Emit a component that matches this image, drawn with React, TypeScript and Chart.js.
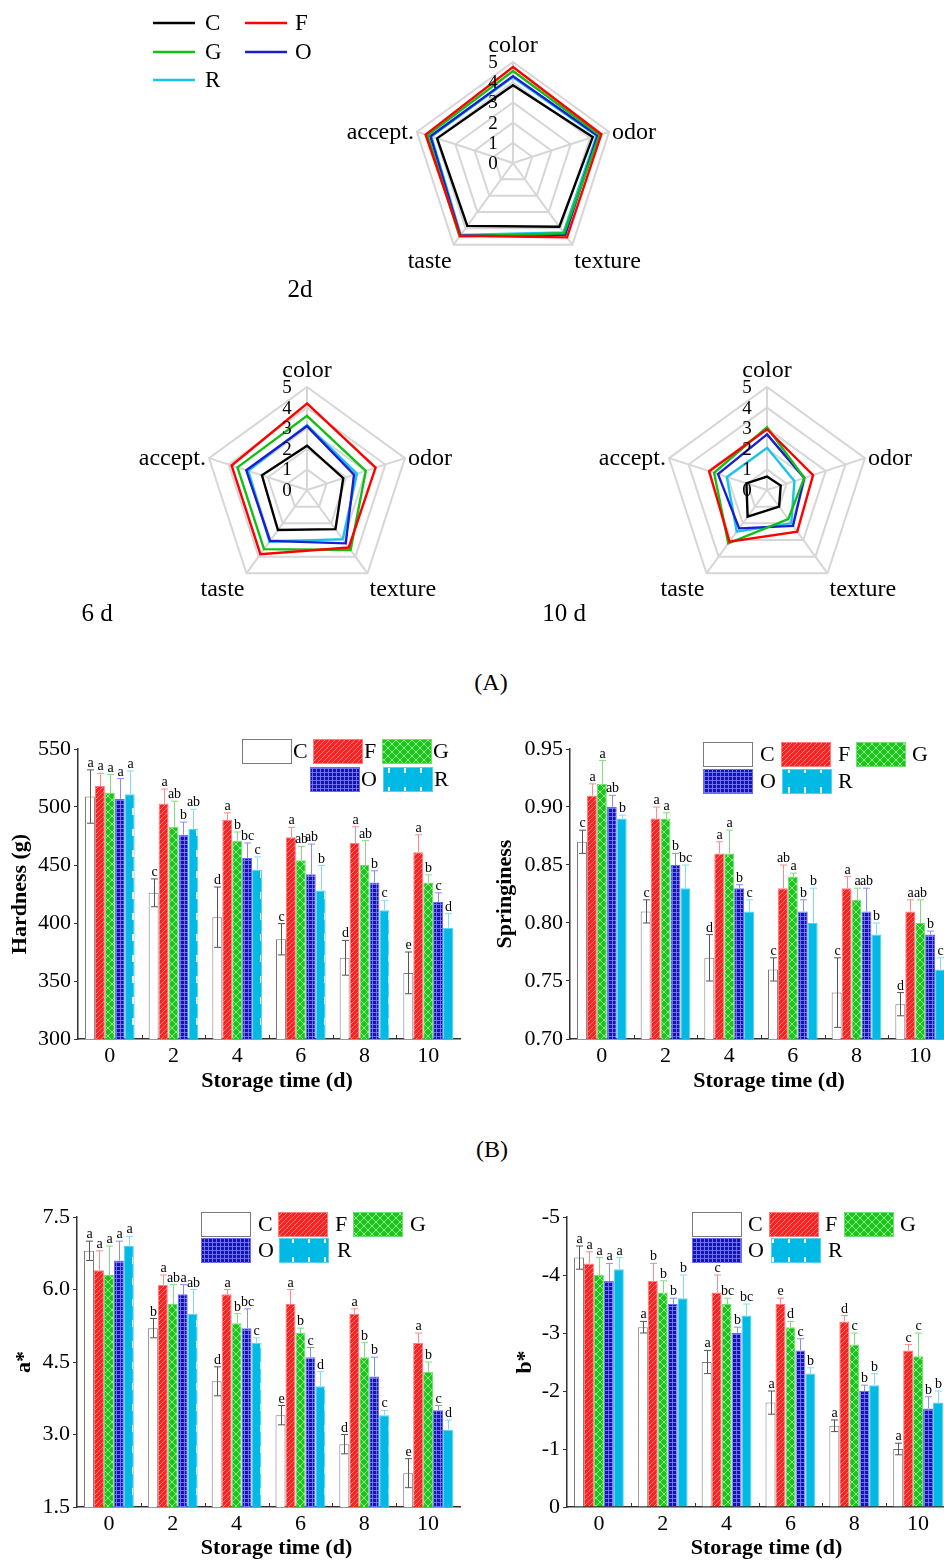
import React, { useEffect, useRef } from 'react';
import { Chart, registerables } from 'chart.js';

Chart.register(...registerables);

const SERIF = "'Times New Roman', 'Liberation Serif', 'DejaVu Serif', serif";

// ---------- data ----------
const seriesNames = ['C', 'F', 'G', 'O', 'R'];
const lineColors = ['#000000', '#ff0000', '#12c012', '#1c1cd0', '#16c4ec'];

const radarAxes = ['color', 'odor', 'texture', 'taste', 'accept.'];
const radarTickLabels = ['0', '1', '2', '3', '4', '5'];

const radar2d = [
  [3.85, 4.15, 3.9, 3.85, 3.95],
  [4.75, 4.6, 4.55, 4.45, 4.55],
  [4.55, 4.5, 4.3, 4.5, 4.45],
  [4.3, 4.4, 4.4, 4.45, 4.3],
  [4.25, 4.35, 4.25, 4.4, 4.25],
];
const radar6d = [
  [2.15, 1.85, 2.35, 2.4, 2.3],
  [4.2, 3.5, 3.45, 3.85, 3.85],
  [3.6, 3.0, 3.6, 3.55, 3.55],
  [3.1, 2.4, 3.2, 3.05, 3.1],
  [3.15, 2.55, 2.95, 3.1, 3.0],
];
const radar10d = [
  [0.65, 0.7, 1.0, 1.6, 1.05],
  [2.95, 2.35, 2.5, 3.1, 2.95],
  [3.05, 1.9, 1.75, 3.2, 2.7],
  [2.7, 1.9, 2.15, 2.3, 2.5],
  [2.05, 1.4, 2.0, 2.5, 2.05],
];

const days = ['0', '2', '4', '6', '8', '10'];

const hardnessTicks = [300, 350, 400, 450, 500, 550];
const hardnessMeans = [
  [509, 426, 405, 386, 370, 357],
  [518, 503, 489, 474, 469, 461],
  [512, 483, 471, 454, 450, 435],
  [507, 476, 456, 442, 435, 418],
  [511, 481, 446, 428, 411, 396],
];
const hardnessErrors = [
  [23, 12, 26, 13.5, 15, 18],
  [11, 12.5, 6, 8.5, 14, 15],
  [16, 22, 7.5, 12, 21, 6.5],
  [17.5, 11, 13, 26, 10, 8],
  [20, 17, 11, 21.5, 8.5, 12],
];
const hardnessLetters = [
  ['a', 'c', 'd', 'c', 'd', 'e'],
  ['a', 'a', 'a', 'a', 'a', 'a'],
  ['a', 'ab', 'b', 'ab', 'ab', 'b'],
  ['a', 'b', 'bc', 'ab', 'b', 'c'],
  ['a', 'ab', 'c', 'b', 'c', 'd'],
];

const springTicks = [0.7, 0.75, 0.8, 0.85, 0.9, 0.95];
const springMeans = [
  [0.87, 0.81, 0.77, 0.76, 0.74, 0.73],
  [0.91, 0.89, 0.86, 0.83, 0.83, 0.81],
  [0.92, 0.89, 0.86, 0.84, 0.82, 0.8],
  [0.9, 0.85, 0.83, 0.81, 0.81, 0.79],
  [0.89, 0.83, 0.81, 0.8, 0.79, 0.76],
];
const springErrors = [
  [0.01, 0.01, 0.02, 0.01, 0.03, 0.01],
  [0.01, 0.01, 0.01, 0.02, 0.01, 0.01],
  [0.02, 0.005, 0.02, 0.003, 0.01, 0.02],
  [0.01, 0.01, 0.003, 0.01, 0.02, 0.003],
  [0.003, 0.02, 0.01, 0.03, 0.01, 0.01],
];
const springLetters = [
  ['c', 'c', 'd', 'c', 'c', 'd'],
  ['a', 'a', 'a', 'ab', 'a', 'a'],
  ['a', 'a', 'a', 'a', 'a', 'ab'],
  ['ab', 'b', 'b', 'b', 'ab', 'b'],
  ['b', 'bc', 'c', 'b', 'b', 'c'],
];

const aTicks = [1.5, 3.0, 4.5, 6.0, 7.5];
const aMeans = [
  [6.8, 5.2, 4.1, 3.4, 2.8, 2.2],
  [6.4, 6.1, 5.9, 5.7, 5.5, 4.9],
  [6.3, 5.7, 5.3, 5.1, 4.6, 4.3],
  [6.6, 5.9, 5.2, 4.6, 4.2, 3.5],
  [6.9, 5.5, 4.9, 4.0, 3.4, 3.1],
];
const aErrors = [
  [0.2, 0.2, 0.3, 0.2, 0.2, 0.3],
  [0.4, 0.2, 0.1, 0.3, 0.1, 0.2],
  [0.6, 0.4, 0.2, 0.1, 0.3, 0.2],
  [0.4, 0.2, 0.4, 0.2, 0.4, 0.1],
  [0.2, 0.5, 0.1, 0.3, 0.1, 0.2],
];
const aLetters = [
  ['a', 'b', 'd', 'e', 'd', 'e'],
  ['a', 'a', 'a', 'a', 'a', 'a'],
  ['a', 'ab', 'b', 'b', 'b', 'b'],
  ['a', 'a', 'bc', 'c', 'b', 'c'],
  ['a', 'ab', 'c', 'd', 'c', 'd'],
];

const bTicks = [-5, -4, -3, -2, -1, 0];
const bMeans = [
  [-4.3, -3.1, -2.5, -1.8, -1.4, -1.0],
  [-4.2, -3.9, -3.7, -3.5, -3.2, -2.7],
  [-4.0, -3.7, -3.5, -3.1, -2.8, -2.6],
  [-3.9, -3.5, -3.0, -2.7, -2.0, -1.7],
  [-4.1, -3.6, -3.3, -2.3, -2.1, -1.8],
];
const bErrors = [
  [0.2, 0.1, 0.2, 0.2, 0.1, 0.1],
  [0.2, 0.3, 0.3, 0.1, 0.1, 0.1],
  [0.3, 0.2, 0.1, 0.1, 0.2, 0.4],
  [0.3, 0.1, 0.1, 0.2, 0.1, 0.2],
  [0.2, 0.4, 0.2, 0.1, 0.2, 0.2],
];
const bLetters = [
  ['a', 'a', 'a', 'a', 'a', 'a'],
  ['a', 'b', 'c', 'e', 'd', 'c'],
  ['a', 'b', 'bc', 'd', 'c', 'c'],
  ['a', 'b', 'b', 'c', 'b', 'b'],
  ['a', 'b', 'bc', 'b', 'b', 'b'],
];

// ---------- styling helpers ----------
type Rect = { x: number; y: number; w: number; h: number };

const barBorders = ['#7a7a7a', '#ff7a7a', '#6ee06e', '#6a6af0', '#55d2f2'];
const errColors = ['#555555', '#ff8a8a', '#7ede7e', '#8a8aff', '#7fdcff'];

function tile(w: number, h: number, draw: (c: CanvasRenderingContext2D) => void) {
  const cv = document.createElement('canvas');
  cv.width = w;
  cv.height = h;
  const c = cv.getContext('2d')!;
  draw(c);
  return cv;
}

function makeFills(ctx: CanvasRenderingContext2D): (string | CanvasPattern)[] {
  const red = tile(5, 5, (c) => {
    c.fillStyle = '#ff2020';
    c.fillRect(0, 0, 5, 5);
    c.strokeStyle = 'rgba(255,180,180,0.9)';
    c.lineWidth = 0.8;
    c.beginPath();
    c.moveTo(0, 5); c.lineTo(5, 0);
    c.moveTo(-1, 1); c.lineTo(1, -1);
    c.moveTo(4, 6); c.lineTo(6, 4);
    c.stroke();
  });
  const green = tile(8, 8, (c) => {
    c.fillStyle = '#1ec31e';
    c.fillRect(0, 0, 8, 8);
    c.strokeStyle = 'rgba(190,255,190,0.85)';
    c.lineWidth = 0.8;
    c.beginPath();
    c.moveTo(0, 8); c.lineTo(8, 0);
    c.moveTo(0, 0); c.lineTo(8, 8);
    c.stroke();
  });
  const blue = tile(4, 4, (c) => {
    c.fillStyle = '#1414b0';
    c.fillRect(0, 0, 4, 4);
    c.fillStyle = 'rgba(130,130,255,0.8)';
    c.fillRect(0, 0, 4, 1);
    c.fillRect(0, 0, 1, 4);
  });
  const cyan = tile(16, 21, (c) => {
    c.fillStyle = '#00b9e4';
    c.fillRect(0, 0, 16, 21);
    c.fillStyle = '#ffffff';
    c.fillRect(4, 4, 2, 7);
  });
  return [
    '#ffffff',
    ctx.createPattern(red, 'repeat')!,
    ctx.createPattern(green, 'repeat')!,
    ctx.createPattern(blue, 'repeat')!,
    ctx.createPattern(cyan, 'repeat')!,
  ];
}

function ChartCanvas({ rect, build }: { rect: Rect; build: (cv: HTMLCanvasElement) => any }) {
  const ref = useRef<HTMLCanvasElement | null>(null);
  useEffect(() => {
    if (!ref.current) return;
    const chart = new Chart(ref.current, build(ref.current));
    return () => chart.destroy();
  }, []);
  return (
    <canvas
      ref={ref}
      width={rect.w}
      height={rect.h}
      style={{ position: 'absolute', left: rect.x, top: rect.y, width: rect.w, height: rect.h, display: 'block' }}
    />
  );
}

// ---------- radar ----------
type RadarSpec = {
  rect: Rect;
  cx: number;
  cy: number;
  r: number;
  values: number[][];
  extra?: (ctx: CanvasRenderingContext2D, rect: Rect) => void;
};

function radarConfig(spec: RadarSpec) {
  const { rect, cx, cy, r, values } = spec;
  return {
    type: 'radar',
    data: {
      labels: radarAxes,
      datasets: seriesNames.map((n, i) => ({
        label: n,
        data: values[i],
        borderColor: lineColors[i],
        backgroundColor: 'rgba(0,0,0,0)',
        borderWidth: 2.4,
        pointRadius: 0,
        fill: false,
        tension: 0,
      })),
    },
    options: {
      responsive: false,
      animation: false,
      devicePixelRatio: 1,
      events: [],
      layout: {
        padding: {
          left: cx - r - rect.x,
          top: cy - r - rect.y,
          right: rect.x + rect.w - (cx + r),
          bottom: rect.y + rect.h - (cy + r),
        },
      },
      plugins: { legend: { display: false }, tooltip: { enabled: false } },
      scales: {
        r: {
          min: 0,
          max: 5,
          ticks: { display: false, stepSize: 1 },
          pointLabels: { display: false },
          grid: { color: '#d6d6d6', lineWidth: 2 },
          angleLines: { color: '#d6d6d6', lineWidth: 2 },
        },
      },
    },
    plugins: [
      {
        id: 'radarText',
        afterDraw(chart: any) {
          const s = chart.scales.r;
          const ctx: CanvasRenderingContext2D = chart.ctx;
          ctx.save();
          ctx.fillStyle = '#000';
          ctx.font = `24px ${SERIF}`;
          ctx.textBaseline = 'alphabetic';
          radarAxes.forEach((lab, i) => {
            const p = s.getPointPosition(i, s.drawingArea);
            let x = p.x;
            let y = p.y;
            if (i === 0) { ctx.textAlign = 'center'; y -= 10; }
            else if (i === 1) { ctx.textAlign = 'left'; x += 3; y += 7; }
            else if (i === 2) { ctx.textAlign = 'left'; x += 2; y += 23; }
            else if (i === 3) { ctx.textAlign = 'right'; x -= 2; y += 23; }
            else { ctx.textAlign = 'right'; x -= 3; y += 7; }
            ctx.fillText(lab, x, y);
          });
          ctx.font = `19px ${SERIF}`;
          ctx.textAlign = 'center';
          ctx.textBaseline = 'middle';
          radarTickLabels.forEach((t) => {
            const d = s.getDistanceFromCenterForValue(Number(t));
            ctx.fillText(t, s.xCenter - 20, s.yCenter - d + 1);
          });
          if (spec.extra) spec.extra(ctx, rect);
          ctx.restore();
        },
      },
    ],
  };
}

function drawRadarLegend(ctx: CanvasRenderingContext2D, rect: Rect) {
  const items = [
    { x: 153, y: 23, tx: 205 },
    { x: 245, y: 23, tx: 295 },
    { x: 153, y: 52, tx: 205 },
    { x: 245, y: 52, tx: 295 },
    { x: 153, y: 80, tx: 205 },
  ];
  ctx.font = `23px ${SERIF}`;
  ctx.textAlign = 'left';
  ctx.textBaseline = 'middle';
  items.forEach((it, i) => {
    ctx.strokeStyle = lineColors[i];
    ctx.lineWidth = 2.6;
    ctx.beginPath();
    ctx.moveTo(it.x - rect.x, it.y - rect.y);
    ctx.lineTo(it.x + 42 - rect.x, it.y - rect.y);
    ctx.stroke();
    ctx.fillStyle = '#000';
    ctx.fillText(seriesNames[i], it.tx - rect.x, it.y + 1 - rect.y);
  });
}

function drawLabel(text: string, x: number, y: number) {
  return (ctx: CanvasRenderingContext2D, rect: Rect) => {
    ctx.font = `25px ${SERIF}`;
    ctx.fillStyle = '#000';
    ctx.textAlign = 'center';
    ctx.textBaseline = 'middle';
    ctx.fillText(text, x - rect.x, y - rect.y);
  };
}

// ---------- bars ----------
type BarSpec = {
  rect: Rect;
  plot: { l: number; r: number; t: number; b: number };
  min: number;
  max: number;
  ticks: number[];
  fmt: (v: number) => string;
  reverse?: boolean;
  means: number[][];
  errs: number[][];
  letters: string[][];
  yTitle: string;
  yTitleX: number;
  xTitleY: number;
  legend: { bx: number; by: number; tx: number }[];
};

function barConfig(spec: BarSpec, cv: HTMLCanvasElement) {
  const { rect, plot } = spec;
  const fills = makeFills(cv.getContext('2d')!);
  const up = spec.reverse ? -1 : 1;
  return {
    type: 'bar',
    data: {
      labels: days,
      datasets: seriesNames.map((n, i) => ({
        label: n,
        data: spec.means[i],
        backgroundColor: fills[i],
        borderColor: barBorders[i],
        borderWidth: 1,
        categoryPercentage: 0.78,
        barPercentage: 1.0,
      })),
    },
    options: {
      responsive: false,
      animation: false,
      devicePixelRatio: 1,
      events: [],
      layout: {
        padding: { left: 0, top: plot.t - rect.y, right: rect.x + rect.w - plot.r, bottom: 0 },
      },
      plugins: { legend: { display: false }, tooltip: { enabled: false } },
      scales: {
        x: {
          type: 'category',
          offset: true,
          grid: { display: false, drawTicks: false, tickLength: 0 },
          border: { display: true, color: '#333', width: 1.5 },
          ticks: { font: { family: SERIF, size: 22 }, color: '#000', padding: 4, maxRotation: 0, autoSkip: false },
          afterFit: (s: any) => { s.height = rect.y + rect.h - plot.b; },
        },
        y: {
          min: spec.min,
          max: spec.max,
          reverse: !!spec.reverse,
          afterBuildTicks: (s: any) => { s.ticks = spec.ticks.map((v) => ({ value: v })); },
          grid: { drawOnChartArea: false, tickLength: 4, color: '#333', lineWidth: 1 },
          border: { display: true, color: '#333', width: 1.5 },
          ticks: { font: { family: SERIF, size: 22 }, color: '#000', padding: 3, callback: (v: any) => spec.fmt(Number(v)) },
          title: {
            display: true,
            text: spec.yTitle,
            color: '#000',
            font: { family: SERIF, size: 22, weight: 'bold' },
            padding: { top: spec.yTitleX - rect.x - 13.2, bottom: 0 },
          },
          afterFit: (s: any) => { s.width = plot.l - rect.x; },
        },
      },
    },
    plugins: [
      {
        id: 'errLetters',
        afterDatasetsDraw(chart: any) {
          const ctx: CanvasRenderingContext2D = chart.ctx;
          const ys = chart.scales.y;
          const xs = chart.scales.x;
          const area = chart.chartArea;
          ctx.save();
          ctx.strokeStyle = '#333';
          ctx.lineWidth = 1;
          ctx.beginPath();
          for (let i = 0; i < days.length - 1; i++) {
            const bx = Math.round((xs.getPixelForTick(i) + xs.getPixelForTick(i + 1)) / 2) + 0.5;
            ctx.moveTo(bx, area.bottom);
            ctx.lineTo(bx, area.bottom - 4);
          }
          ctx.stroke();
          spec.means.forEach((arr, si) => {
            const meta = chart.getDatasetMeta(si);
            arr.forEach((v, i) => {
              const el = meta.data[i];
              if (!el) return;
              const x = Math.round(el.x) + 0.5;
              const e = spec.errs[si][i];
              const pv = ys.getPixelForValue(v);
              const pt = ys.getPixelForValue(v + up * e);
              const pb = ys.getPixelForValue(v - up * e);
              ctx.strokeStyle = errColors[si];
              ctx.lineWidth = 1;
              ctx.beginPath();
              ctx.moveTo(x, si === 0 ? pb : pv);
              ctx.lineTo(x, pt);
              ctx.moveTo(x - 3.5, pt);
              ctx.lineTo(x + 3.5, pt);
              if (si === 0) {
                ctx.moveTo(x - 3.5, pb);
                ctx.lineTo(x + 3.5, pb);
              }
              ctx.stroke();
              ctx.fillStyle = '#000';
              ctx.font = `14px ${SERIF}`;
              ctx.textAlign = 'center';
              ctx.textBaseline = 'alphabetic';
              ctx.fillText(spec.letters[si][i], x, pt - 3);
            });
          });
          ctx.restore();
        },
        afterDraw(chart: any) {
          const ctx: CanvasRenderingContext2D = chart.ctx;
          const area = chart.chartArea;
          ctx.save();
          spec.legend.forEach((it, i) => {
            const bx = it.bx - rect.x;
            const by = it.by - rect.y;
            ctx.fillStyle = fills[i] as any;
            ctx.fillRect(bx, by, 50, 25);
            ctx.strokeStyle = barBorders[i];
            ctx.lineWidth = 1;
            ctx.strokeRect(bx + 0.5, by + 0.5, 49, 24);
            ctx.fillStyle = '#000';
            ctx.font = `22px ${SERIF}`;
            ctx.textAlign = 'left';
            ctx.textBaseline = 'middle';
            ctx.fillText(seriesNames[i], it.tx - rect.x, by + 13.5);
          });
          ctx.fillStyle = '#000';
          ctx.font = `bold 22px ${SERIF}`;
          ctx.textAlign = 'center';
          ctx.textBaseline = 'middle';
          ctx.fillText('Storage time (d)', (area.left + area.right) / 2 + 8, spec.xTitleY - rect.y);
          ctx.restore();
        },
      },
    ],
  };
}

const hardnessSpec: BarSpec = {
  rect: { x: 0, y: 720, w: 470, h: 380 },
  plot: { l: 78, r: 460, t: 749, b: 1039 },
  min: 300, max: 550, ticks: hardnessTicks, fmt: (v) => String(v),
  means: hardnessMeans, errs: hardnessErrors, letters: hardnessLetters,
  yTitle: 'Hardness (g)', yTitleX: 20, xTitleY: 1081,
  legend: [
    { bx: 242, by: 739, tx: 293 },
    { bx: 313, by: 739, tx: 364 },
    { bx: 382, by: 739, tx: 433 },
    { bx: 310, by: 767, tx: 361 },
    { bx: 383, by: 767, tx: 434 },
  ],
};

const springSpec: BarSpec = {
  rect: { x: 480, y: 720, w: 480, h: 380 },
  plot: { l: 570, r: 952, t: 749, b: 1039 },
  min: 0.7, max: 0.95, ticks: springTicks, fmt: (v) => v.toFixed(2),
  means: springMeans, errs: springErrors, letters: springLetters,
  yTitle: 'Springiness', yTitleX: 505, xTitleY: 1081,
  legend: [
    { bx: 703, by: 742, tx: 760 },
    { bx: 781, by: 742, tx: 838 },
    { bx: 856, by: 742, tx: 912 },
    { bx: 703, by: 769, tx: 760 },
    { bx: 782, by: 769, tx: 838 },
  ],
};

const aSpec: BarSpec = {
  rect: { x: 0, y: 1190, w: 470, h: 380 },
  plot: { l: 77, r: 460, t: 1217, b: 1507 },
  min: 1.5, max: 7.5, ticks: aTicks, fmt: (v) => v.toFixed(1),
  means: aMeans, errs: aErrors, letters: aLetters,
  yTitle: 'a*', yTitleX: 24, xTitleY: 1548,
  legend: [
    { bx: 201, by: 1212, tx: 258 },
    { bx: 278, by: 1212, tx: 335 },
    { bx: 353, by: 1212, tx: 410 },
    { bx: 201, by: 1238, tx: 258 },
    { bx: 279, by: 1238, tx: 337 },
  ],
};

const bSpec: BarSpec = {
  rect: { x: 480, y: 1190, w: 480, h: 380 },
  plot: { l: 567, r: 950, t: 1217, b: 1507 },
  min: -5, max: 0, ticks: bTicks, fmt: (v) => String(v), reverse: true,
  means: bMeans, errs: bErrors, letters: bLetters,
  yTitle: 'b*', yTitleX: 525, xTitleY: 1548,
  legend: [
    { bx: 692, by: 1212, tx: 748 },
    { bx: 769, by: 1212, tx: 825 },
    { bx: 844, by: 1212, tx: 900 },
    { bx: 692, by: 1238, tx: 748 },
    { bx: 771, by: 1238, tx: 828 },
  ],
};

const radarTop: RadarSpec = {
  rect: { x: 140, y: 0, w: 520, h: 310 },
  cx: 513, cy: 163, r: 101, values: radar2d,
  extra: (ctx, rect) => { drawRadarLegend(ctx, rect); drawLabel('2d', 300, 290)(ctx, rect); },
};
const radarMidL: RadarSpec = {
  rect: { x: 60, y: 340, w: 420, h: 290 },
  cx: 307, cy: 490, r: 103, values: radar6d,
  extra: drawLabel('6 d', 97, 614),
};
const radarMidR: RadarSpec = {
  rect: { x: 520, y: 340, w: 424, h: 290 },
  cx: 767, cy: 490, r: 103, values: radar10d,
  extra: drawLabel('10 d', 564, 614),
};

const panelLabel: React.CSSProperties = {
  position: 'absolute',
  transform: 'translate(-50%, -50%)',
  fontFamily: SERIF,
  fontSize: 24,
  lineHeight: 1,
  color: '#000',
  whiteSpace: 'nowrap',
};

export default function App() {
  return (
    <div style={{ position: 'absolute', left: 0, top: 0, width: 944, height: 1562, overflow: 'hidden', background: '#fff' }}>
      <ChartCanvas rect={radarTop.rect} build={() => radarConfig(radarTop)} />
      <ChartCanvas rect={radarMidL.rect} build={() => radarConfig(radarMidL)} />
      <ChartCanvas rect={radarMidR.rect} build={() => radarConfig(radarMidR)} />
      <div style={{ ...panelLabel, left: 491, top: 682 }}>(A)</div>
      <ChartCanvas rect={hardnessSpec.rect} build={(cv) => barConfig(hardnessSpec, cv)} />
      <ChartCanvas rect={springSpec.rect} build={(cv) => barConfig(springSpec, cv)} />
      <div style={{ ...panelLabel, left: 492, top: 1149 }}>(B)</div>
      <ChartCanvas rect={aSpec.rect} build={(cv) => barConfig(aSpec, cv)} />
      <ChartCanvas rect={bSpec.rect} build={(cv) => barConfig(bSpec, cv)} />
    </div>
  );
}
